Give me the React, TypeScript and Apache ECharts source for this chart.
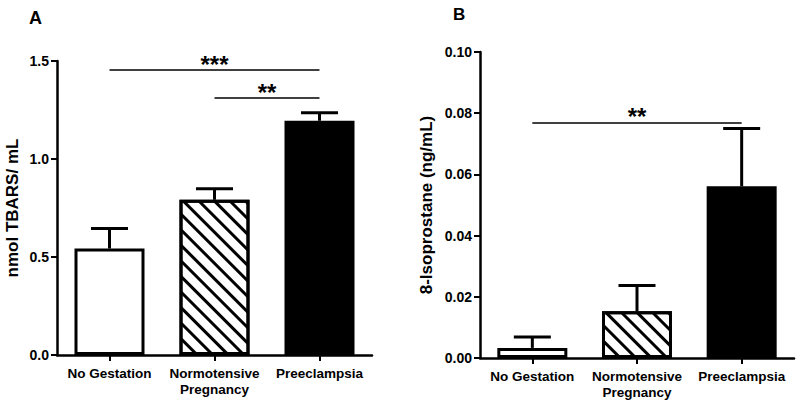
import React, { useEffect, useRef } from "react";
import * as echarts from "echarts";

const categories = ["No Gestation", "Normotensive\nPregnancy", "Preeclampsia"];
const tbarsMean = [0.543, 0.792, 1.195];
const tbarsErrTop = [0.646, 0.848, 1.236];
const isoMean = [0.0033, 0.0153, 0.0561];
const isoErrTop = [0.0069, 0.0237, 0.075];
const tbarsTicks = { min: 0, max: 1.5, interval: 0.5 };
const isoTicks = { min: 0, max: 0.1, interval: 0.02 };
const sigA = [
  { from: 0, to: 2, y: 1.454, label: "***" },
  { from: 1, to: 2, y: 1.311, label: "**" },
];
const sigB = [{ from: 0, to: 2, y: 0.0768, label: "**" }];

const FONT = "Liberation Sans, Arial, sans-serif";

function barItems(values: number[]) {
  return values.map((v, i) => {
    if (i === 0)
      return { value: v, itemStyle: { color: "#fff", borderColor: "#000", borderWidth: 3 } };
    if (i === 1)
      return {
        value: v,
        itemStyle: {
          color: "#fff",
          borderColor: "#000",
          borderWidth: 3,
          decal: {
            symbol: "rect",
            symbolSize: 1,
            color: "#000",
            backgroundColor: "#fff",
            dashArrayX: [1, 0],
            dashArrayY: [2.5, 8],
            rotation: Math.PI / 4,
          },
        },
      };
    return { value: v, itemStyle: { color: "#000", borderColor: "#000", borderWidth: 3 } };
  });
}

function errorRender(params: any, api: any) {
  const idx = api.value(0);
  const base = api.coord([idx, api.value(1)]);
  const top = api.coord([idx, api.value(2)]);
  const half = 18.5;
  const style = { stroke: "#000", lineWidth: 3, fill: null };
  return {
    type: "group",
    children: [
      { type: "line", shape: { x1: base[0], y1: base[1], x2: top[0], y2: top[1] }, style },
      { type: "line", shape: { x1: top[0] - half, y1: top[1], x2: top[0] + half, y2: top[1] }, style },
    ],
  };
}

const sigLabelStyle = {
  show: true,
  position: "middle",
  color: "#000",
  fontFamily: FONT,
  fontWeight: "bold",
  fontSize: 24,
  distance: -6,
};

function sigLines(sig: { from: number; to: number; y: number; label: string }[]) {
  return {
    symbol: ["none", "none"],
    silent: true,
    animation: false,
    lineStyle: { color: "#000", width: 1.5, type: "solid" },
    label: sigLabelStyle,
    emphasis: { disabled: true },
    data: sig.map((s) => [
      { coord: [s.from, s.y], name: s.label, label: { ...sigLabelStyle, formatter: s.label } },
      { coord: [s.to, s.y] },
    ]),
  };
}

function xAxis(gridIndex: number) {
  return {
    type: "category",
    gridIndex,
    data: categories,
    axisLine: { lineStyle: { color: "#000", width: 2.5 } },
    axisTick: { show: true, alignWithLabel: true, length: 6, lineStyle: { color: "#000", width: 2 } },
    axisLabel: {
      color: "#000",
      fontFamily: FONT,
      fontWeight: "bold",
      fontSize: 13.5,
      margin: 10,
      lineHeight: 16,
      interval: 0,
    },
    splitLine: { show: false },
  };
}

function yAxis(gridIndex: number, t: any, digits: number, name: string, gap: number) {
  return {
    type: "value",
    gridIndex,
    min: t.min,
    max: t.max,
    interval: t.interval,
    name,
    nameLocation: "middle",
    nameGap: gap,
    nameTextStyle: { color: "#000", fontFamily: FONT, fontWeight: "bold", fontSize: 17 },
    axisLine: { show: true, lineStyle: { color: "#000", width: 2.5 } },
    axisTick: { show: true, length: 6, lineStyle: { color: "#000", width: 2 } },
    axisLabel: {
      color: "#000",
      fontFamily: FONT,
      fontWeight: "bold",
      fontSize: 14,
      margin: 8,
      formatter: (v: number) => v.toFixed(digits),
    },
    splitLine: { show: false },
  };
}

export default function App() {
  const ref = useRef<HTMLDivElement>(null);
  useEffect(() => {
    if (!ref.current) return;
    const chart = echarts.init(ref.current, undefined, { renderer: "svg" });
    chart.setOption({
      animation: false,
      backgroundColor: "#fff",
      grid: [
        { left: 57, top: 61, width: 315, height: 294 },
        { left: 480, top: 52, width: 314, height: 306 },
      ],
      xAxis: [xAxis(0), xAxis(1)],
      yAxis: [
        yAxis(0, tbarsTicks, 1, "nmol TBARS/ mL", 36),
        yAxis(1, isoTicks, 2, "8-Isoprostane (ng/mL)", 45),
      ],
      graphic: [
        { type: "text", left: 29, top: 9, style: { text: "A", fontFamily: FONT, fontWeight: "bold", fontSize: 18, fill: "#000" } },
        { type: "text", left: 453, top: 6, style: { text: "B", fontFamily: FONT, fontWeight: "bold", fontSize: 17, fill: "#000" } },
      ],
      series: [
        {
          type: "bar",
          xAxisIndex: 0,
          yAxisIndex: 0,
          barWidth: 70,
          data: barItems(tbarsMean),
          markLine: sigLines(sigA),
          z: 2,
        },
        {
          type: "custom",
          xAxisIndex: 0,
          yAxisIndex: 0,
          renderItem: errorRender,
          encode: { x: 0, y: [1, 2] },
          data: tbarsMean.map((m, i) => [i, m, tbarsErrTop[i]]),
          z: 1,
        },
        {
          type: "bar",
          xAxisIndex: 1,
          yAxisIndex: 1,
          barWidth: 70,
          data: barItems(isoMean),
          markLine: sigLines(sigB),
          z: 2,
        },
        {
          type: "custom",
          xAxisIndex: 1,
          yAxisIndex: 1,
          renderItem: errorRender,
          encode: { x: 0, y: [1, 2] },
          data: isoMean.map((m, i) => [i, m, isoErrTop[i]]),
          z: 1,
        },
      ],
    });
    return () => chart.dispose();
  }, []);
  return <div ref={ref} style={{ width: 800, height: 405, position: "absolute", left: 0, top: 0 }} />;
}
